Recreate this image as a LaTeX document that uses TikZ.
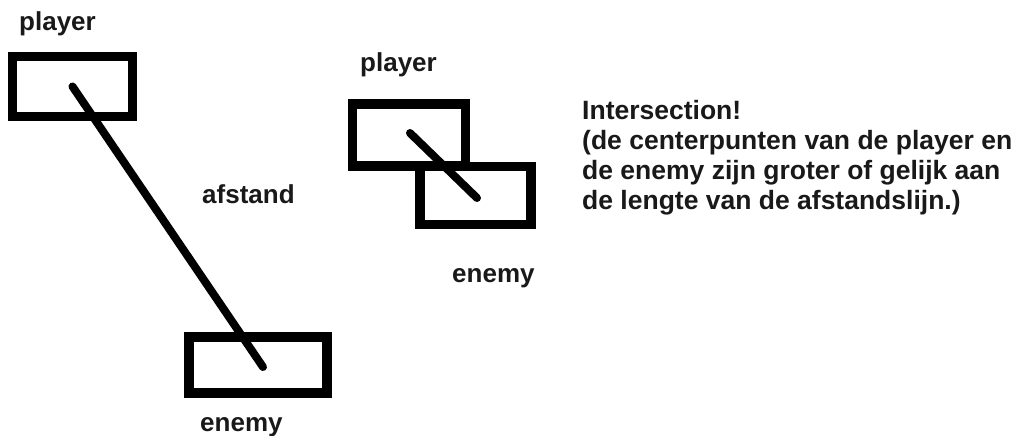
\documentclass[tikz,border=0pt]{standalone}
\usepackage{fontspec}
\setmainfont{Liberation Sans}
\begin{document}
\begin{tikzpicture}[x=1pt,y=-1pt,
  box/.style={draw=black,line width=9.5pt,rectangle,inner sep=0pt,outer sep=0pt},
  lbl/.style={font=\fontsize{26}{30}\selectfont\bfseries,text=black!90,inner sep=0pt,anchor=base west},
  dist/.style={line width=8pt,line cap=round,draw=black}]
\useasboundingbox[fill=white] (0,0) rectangle (1020,436);
% left pair
\node[box,minimum width=120pt,minimum height=60pt] (p1) at (72.5,86.5) {};
\node[box,minimum width=138pt,minimum height=56pt] (e1) at (258,365) {};
\coordinate (e1end) at (263,367);
\draw[dist] (p1.center) -- (e1end);
\node[lbl] (p1lbl) at (19,31) {player};
\node[lbl] (afst) at (202,203) {afstand};
\node[lbl] (e1lbl) at (200,431) {enemy};
% right pair
\node[box,minimum width=113pt,minimum height=62pt] (p2) at (409,135) {};
\node[box,minimum width=111pt,minimum height=58pt] (e2) at (475.5,195.5) {};
\coordinate (p2start) at (410,133);
\coordinate (e2end) at (477,198);
\draw[dist] (p2start) -- (e2end);
\node[lbl] (p2lbl) at (360,72) {player};
\node[lbl] (e2lbl) at (452,282) {enemy};
% explanation
\node[lbl,align=left,font=\fontsize{26.5}{30}\selectfont\bfseries] (txt) at (582,209) {Intersection!\\(de centerpunten van de player en\\de enemy zijn groter of gelijk aan\\de lengte van de afstandslijn.)};
\end{tikzpicture}
\end{document}
